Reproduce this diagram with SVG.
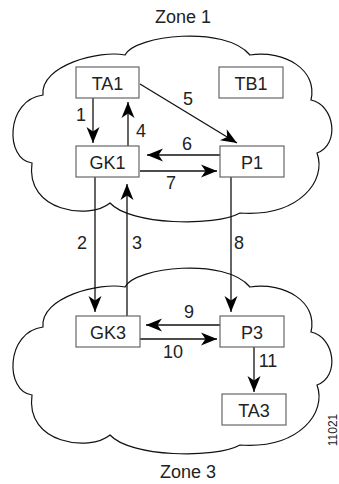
<svg xmlns="http://www.w3.org/2000/svg" width="339" height="484" viewBox="0 0 339 484">
<style>
text{font-family:"Liberation Sans",Arial,sans-serif;font-size:18px;fill:#222;text-anchor:middle}
.cloud{fill:none;stroke:#111;stroke-width:1.2}
.box{fill:#fff;stroke:#666;stroke-width:1.2}
.c{stroke:#111;stroke-width:1.3;fill:none}
.arr{marker-end:url(#ah)}
.id{font-size:12px}
</style>
<defs>
<marker id="ah" markerUnits="userSpaceOnUse" markerWidth="20" markerHeight="16" viewBox="-17 -8 18 16" refX="0" refY="0" orient="auto">
<path d="M0,0 L-16,-6.5 L-11.5,0 L-16,6.5 Z" fill="#000"/>
</marker>
<path id="cloudShape" d="M125 55 C135 35,225 25,250 55 C285 50,318 70,311 100 C335 105,340 145,317 153 C327 180,300 217,240 213 C215 227,130 225,110 203 C90 220,25 212,32 163 C5 160,5 100,43 95 C40 65,100 50,125 55 Z"/>
</defs>
<g id="zone1">
<use href="#cloudShape" class="cloud"/>
<text x="183" y="23">Zone 1</text>
</g>
<g id="zone3">
<use href="#cloudShape" class="cloud" transform="translate(0,232)"/>
<text x="188" y="478">Zone 3</text>
</g>
<g id="connectors">
<line class="c arr" x1="93" y1="98" x2="93" y2="143"/>
<text x="81" y="121">1</text>
<line class="c arr" x1="128" y1="146" x2="128" y2="102"/>
<text x="141" y="137">4</text>
<line class="c arr" x1="140" y1="84" x2="237" y2="143"/>
<text x="188" y="105">5</text>
<line class="c arr" x1="220" y1="155" x2="147" y2="155"/>
<text x="187" y="150">6</text>
<line class="c arr" x1="140" y1="171" x2="217" y2="171"/>
<text x="171" y="189">7</text>
<line class="c arr" x1="95" y1="177" x2="95" y2="312"/>
<text x="82" y="249">2</text>
<line class="c arr" x1="127" y1="316" x2="127" y2="184"/>
<text x="137" y="249">3</text>
<line class="c arr" x1="231" y1="177" x2="231" y2="312"/>
<text x="239" y="249">8</text>
<line class="c arr" x1="220" y1="325" x2="146" y2="325"/>
<text x="189" y="318">9</text>
<line class="c arr" x1="140" y1="339" x2="217" y2="339"/>
<text x="173" y="358">10</text>
<line class="c arr" x1="254" y1="347" x2="254" y2="392"/>
<text x="268" y="367">11</text>
</g>
<g id="TA1"><rect class="box" x="76" y="67" width="63" height="31"/><text x="107.5" y="90">TA1</text></g>
<g id="TB1"><rect class="box" x="219" y="67" width="64" height="31"/><text x="251" y="90">TB1</text></g>
<g id="GK1"><rect class="box" x="76" y="146" width="63" height="31"/><text x="107.5" y="169">GK1</text></g>
<g id="P1"><rect class="box" x="220" y="146" width="64" height="31"/><text x="252" y="169">P1</text></g>
<g id="GK3"><rect class="box" x="76" y="316" width="64" height="31"/><text x="108" y="339">GK3</text></g>
<g id="P3"><rect class="box" x="220" y="316" width="64" height="31"/><text x="252" y="339">P3</text></g>
<g id="TA3"><rect class="box" x="222" y="394" width="64" height="31"/><text x="254" y="417">TA3</text></g>
<text class="id" x="0" y="0" transform="translate(337,430) rotate(-90)">11021</text>
</svg>
